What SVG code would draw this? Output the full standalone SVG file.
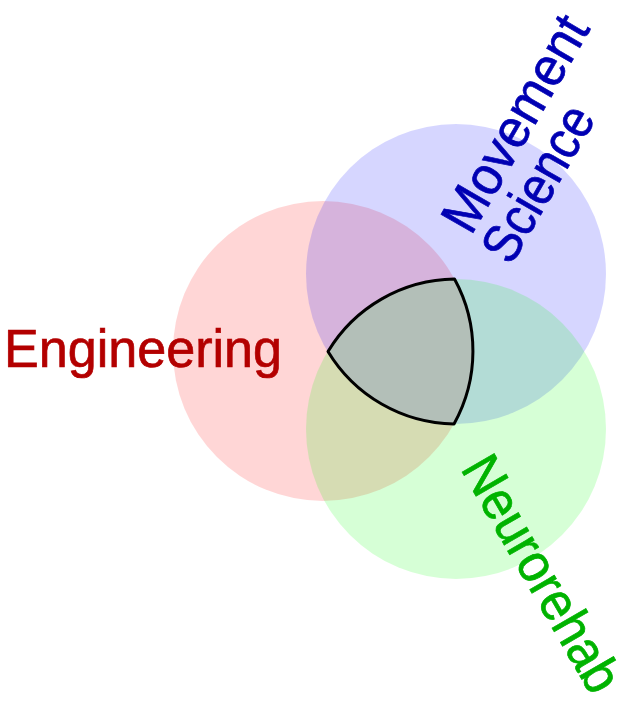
<svg xmlns="http://www.w3.org/2000/svg" width="631" height="710" viewBox="0 0 631 710">
  <style>
    .set { fill-opacity: 0.16; stroke: none; }
    .lbl { font-family: "Liberation Sans", Arial, sans-serif; font-size: 54px; stroke-width: 0.7; }
    .core { fill: none; stroke: #000; stroke-width: 3; stroke-linejoin: round; }
  </style>
  <rect width="631" height="710" fill="#ffffff"/>
  <g id="engineering">
    <circle class="set" cx="323" cy="351" r="150" fill="#ff0000"/>
  </g>
  <g id="movement-science">
    <circle class="set" cx="456" cy="274" r="150" fill="#0000ff"/>
  </g>
  <g id="neurorehab">
    <circle class="set" cx="456" cy="429" r="150" fill="#00ff00"/>
  </g>
  <g id="intersection">
    <path class="core" d="M 328 351.5 A 150 150 0 0 1 454.5 279 A 150 150 0 0 1 454 424 A 150 150 0 0 1 328 351.5 Z"/>
  </g>
  <g id="labels">
    <text class="lbl" x="4" y="367" font-size="57" fill="#b30000" stroke="#b30000" textLength="278" lengthAdjust="spacingAndGlyphs">Engineering</text>
    <g transform="translate(473,233) rotate(-60)">
      <text class="lbl" x="-4" y="0" fill="#0000b3" stroke="#0000b3" textLength="240" lengthAdjust="spacingAndGlyphs">Movement</text>
    </g>
    <g transform="translate(513,263) rotate(-60)">
      <text class="lbl" x="-4" y="0" fill="#0000b3" stroke="#0000b3" textLength="171" lengthAdjust="spacingAndGlyphs">Science</text>
    </g>
    <g transform="translate(462,472) rotate(60)">
      <text class="lbl" x="-4" y="0" fill="#00b300" stroke="#00b300" textLength="264" lengthAdjust="spacingAndGlyphs">Neurorehab</text>
    </g>
  </g>
</svg>
